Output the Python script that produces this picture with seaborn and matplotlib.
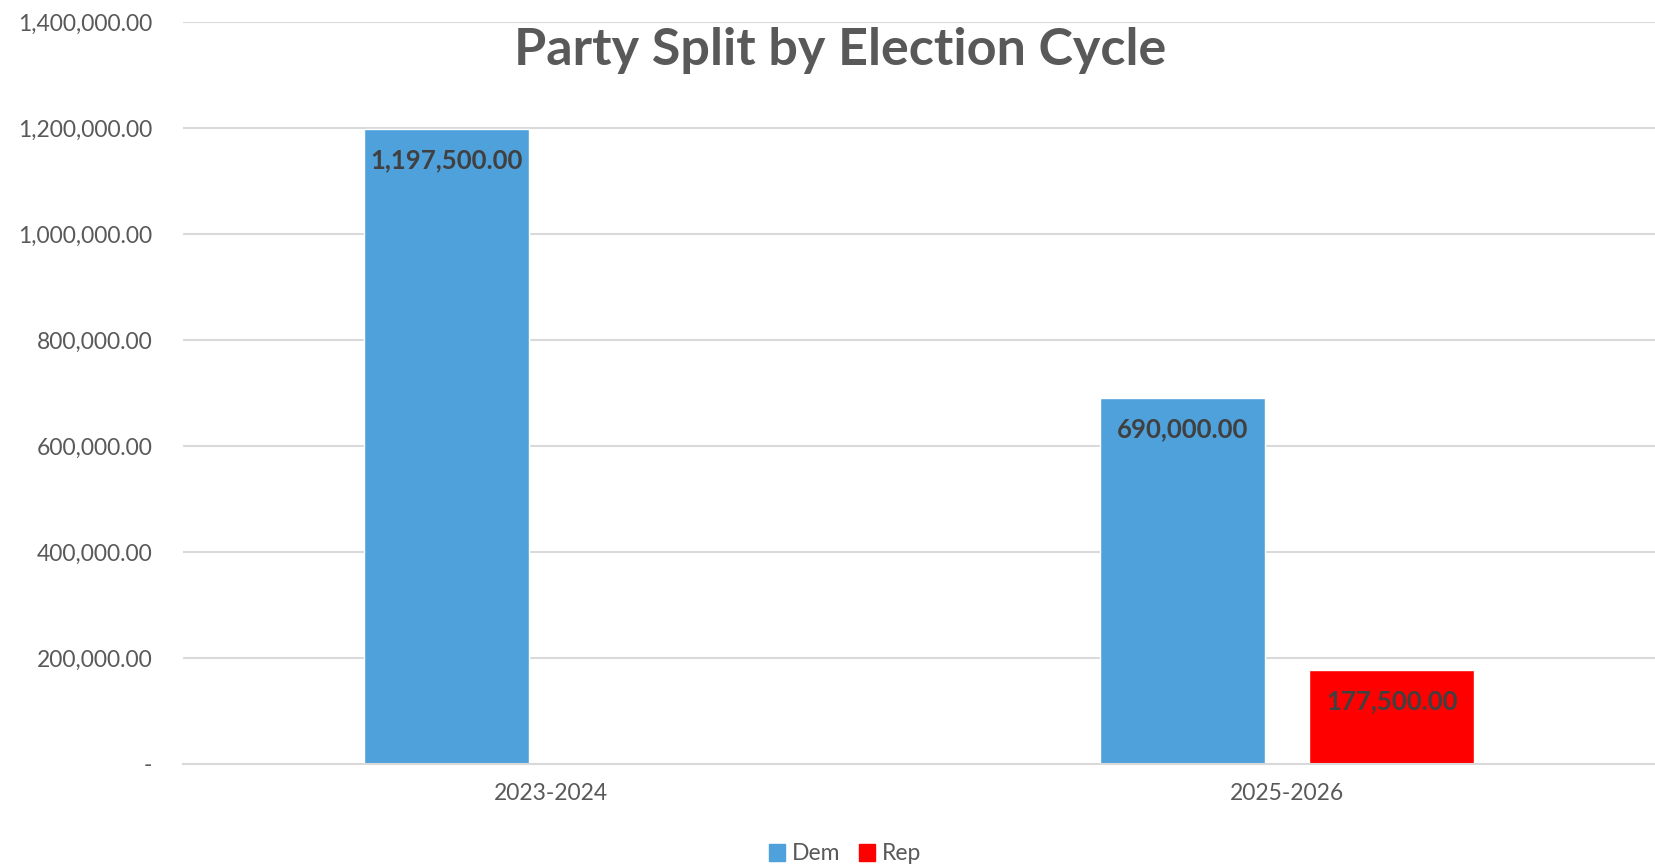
import pandas as pd
import numpy as np
from matplotlib import pyplot as plt
from matplotlib.ticker import FuncFormatter, MultipleLocator
import seaborn as sns

# data
cycles = ["2023-2024", "2025-2026"]
parties = ["Dem", "Rep"]
dem_amounts = [1197500.00, 690000.00]
rep_amounts = [None, 177500.00]  # no Rep bar in 2023-2024

rows = []
for c, d, r in zip(cycles, dem_amounts, rep_amounts):
    rows.append(dict(cycle=c, party="Dem", amount=d))
    if r is not None:
        rows.append(dict(cycle=c, party="Rep", amount=r))
df = pd.DataFrame(rows)

palette = {"Dem": "#4FA1DB", "Rep": "#FF0000"}
grey = "#595959"

sns.set_style("white")
plt.rcParams['font.family'] = ['Lato', 'DejaVu Sans']

W, H = 1656, 868
fig = plt.figure(figsize=(W / 100, H / 100), dpi=100)
ax = fig.add_axes([183 / W, 1 - 764 / H, (1655 - 183) / W, (764 - 22) / H])

sns.barplot(data=df, x="cycle", y="amount", hue="party", order=cycles,
            hue_order=parties, palette=palette, width=0.57, gap=0.214,
            saturation=1, ax=ax, legend=False, errorbar=None)

ax.set_ylim(0, 1400000)
ax.set_xlim(-0.5, 1.5)
ax.yaxis.set_major_locator(MultipleLocator(200000))
ax.yaxis.set_major_formatter(FuncFormatter(lambda v, p: "-" if v == 0 else f"{v:,.2f}"))
ax.grid(axis="y", color="#D9D9D9", linewidth=1.5)
ax.set_axisbelow(True)
for s in ["left", "right", "top"]:
    ax.spines[s].set_visible(False)
ax.spines["bottom"].set_color("#D9D9D9")
ax.spines["bottom"].set_linewidth(1.5)
ax.tick_params(axis="y", length=0, pad=22, labelsize=16.5, labelcolor=grey)
ax.tick_params(axis="x", length=0, pad=14, labelsize=16.5, labelcolor=grey)
ax.set_xlabel("")
ax.set_ylabel("")

# value labels just inside the top of each bar
for cont in ax.containers:
    for p in cont:
        h = p.get_height()
        if np.isnan(h) or h == 0:
            continue
        ax.annotate(f"{h:,.2f}", (p.get_x() + p.get_width() / 2, h),
                    xytext=(0, -22.5), textcoords="offset points",
                    ha="center", va="center", fontsize=18.5,
                    fontweight="bold", color="#404040")

fig.text(840 / W, 1 - 50 / H, "Party Split by Election Cycle", ha="center",
         va="center", fontsize=37.5, fontweight="bold", color=grey)

handles = [plt.Rectangle((0, 0), 1, 1, color=palette[p]) for p in parties]
fig.legend(handles, parties, loc="center", bbox_to_anchor=(845 / W, 1 - 854 / H),
           ncol=2, frameon=False, fontsize=16.5, handlelength=0.7,
           handleheight=0.7, handletextpad=0.3, columnspacing=0.8,
           labelcolor=grey)

fig.savefig("out.png", dpi=100)
